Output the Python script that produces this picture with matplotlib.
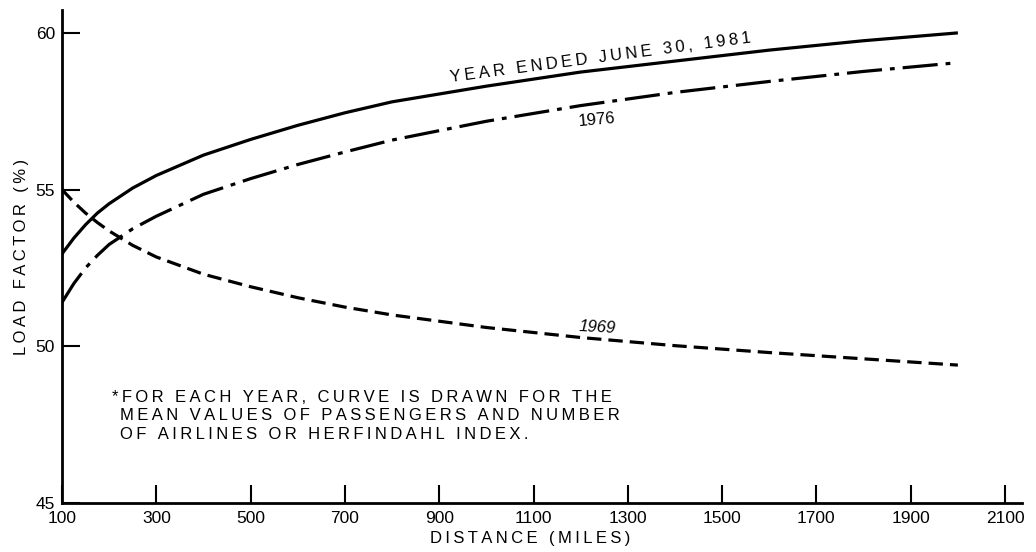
import matplotlib
matplotlib.use("Agg")
import matplotlib.pyplot as plt

distance = [100, 125, 150, 175, 200, 250, 300, 400, 500, 600, 700, 800, 1000, 1200, 1400, 1600, 1800, 2000]
lf_1981 = [52.95, 53.45, 53.88, 54.25, 54.55, 55.05, 55.45, 56.1, 56.6, 57.05, 57.45, 57.8, 58.3, 58.75, 59.1, 59.45, 59.75, 60.0]
lf_1976 = [51.4, 52.0, 52.5, 52.9, 53.25, 53.75, 54.15, 54.85, 55.35, 55.8, 56.2, 56.58, 57.18, 57.68, 58.1, 58.45, 58.77, 59.05]
lf_1969 = [55.0, 54.6, 54.25, 53.95, 53.68, 53.22, 52.85, 52.3, 51.9, 51.55, 51.25, 51.0, 50.6, 50.28, 50.02, 49.8, 49.6, 49.4]

x_ticks = [100, 300, 500, 700, 900, 1100, 1300, 1500, 1700, 1900, 2100]
y_ticks = [45, 50, 55, 60]

label_1981 = "YEAR ENDED JUNE 30, 1981"
label_1976 = "1976"
label_1969 = "1969"
note_lines = ["*FOR EACH YEAR, CURVE IS DRAWN FOR THE",
              " MEAN VALUES OF PASSENGERS AND NUMBER",
              " OF AIRLINES OR HERFINDAHL INDEX."]
x_label = "DISTANCE (MILES)"
y_label = "LOAD FACTOR (%)"

FONT = ['Liberation Sans', 'DejaVu Sans']
plt.rcParams['font.family'] = FONT


def spaced(s, sep='\u2009'):
    return sep.join(s)


fig = plt.figure(figsize=(10.36, 5.52), dpi=100)
ax = fig.add_axes([62 / 1036, 1 - 503 / 552, 960 / 1036, 493 / 552])

lw = 2.3
ax.plot(distance, lf_1981, color='black', lw=lw, solid_capstyle='butt')
ax.plot(distance, lf_1976, color='black', lw=lw, linestyle=(0, (11, 2.5, 1.5, 2.5)))
ax.plot(distance, lf_1969, color='black', lw=lw, linestyle=(0, (4.5, 2.2)))

ax.set_xlim(100, 2136)
ax.set_ylim(45, 60.73)
ax.set_xticks(x_ticks)
ax.set_yticks(y_ticks)

for s in ['top', 'right']:
    ax.spines[s].set_visible(False)
for s in ['left', 'bottom']:
    ax.spines[s].set_linewidth(2)

ax.tick_params(axis='both', direction='in', length=13, width=1.5, labelsize=12.5)
ax.tick_params(axis='y', pad=5)
ax.tick_params(axis='x', pad=6)

ax.set_xlabel(spaced(x_label), fontsize=12)
ax.xaxis.set_label_coords((530 - 62) / 960, -0.056)
ax.set_ylabel(spaced(y_label), fontsize=12, labelpad=5)

ax.text(1243, 59.2, spaced(label_1981), fontsize=12, rotation=7.5,
        ha='center', va='center', rotation_mode='anchor')
ax.text(1235, 57.22, label_1976, fontsize=12, rotation=5,
        ha='center', va='center', rotation_mode='anchor')
ax.text(1235, 50.59, label_1969, fontsize=12, rotation=-3, style='italic',
        ha='center', va='center', rotation_mode='anchor')

ax.text(205, 48.6, "\n".join(spaced(l) for l in note_lines), fontsize=12,
        ha='left', va='top', linespacing=1.27)

fig.savefig('out.png', dpi=100)
